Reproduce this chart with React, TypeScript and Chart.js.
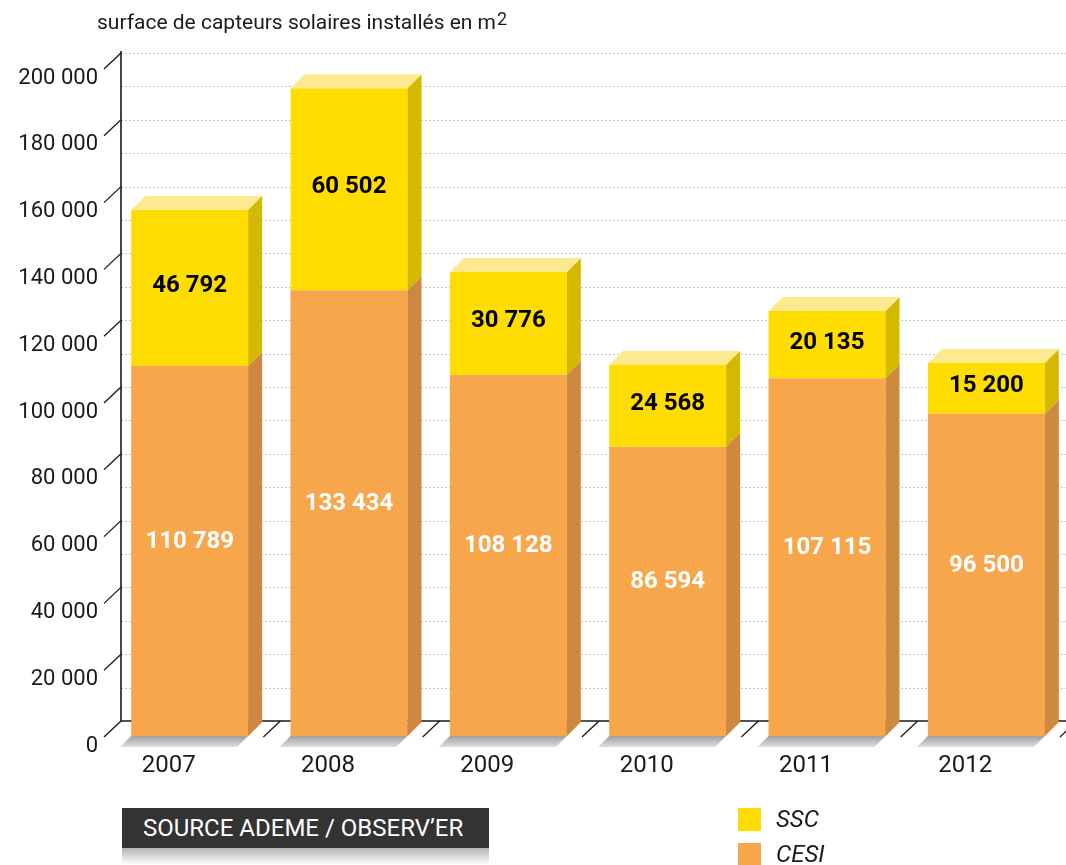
import React, { useEffect, useRef } from "react";
import { Chart, registerables } from "chart.js";

Chart.register(...registerables);

const years = ["2007", "2008", "2009", "2010", "2011", "2012"];
const cesiValues = [110789, 133434, 108128, 86594, 107115, 96500];
const sscValues = [46792, 60502, 30776, 24568, 20135, 15200];
const yMax = 200000;
const yStep = 20000;
const gridStep = 10000;

const fmt = (v: number) => String(v).replace(/\B(?=(\d{3})+(?!\d))/g, " ");

const FRONT_SSC = "#FFDD00";
const FRONT_CESI = "#F7A64B";
const SIDE_SSC = "#D5B800";
const SIDE_CESI = "#CF883D";
const TOP_SSC = "#FDEA8F";
const DX = 14;
const DY = 14;
const WALL_DEPTH = 15;
const FONT = "Roboto, 'Noto Sans', sans-serif";

const plugin3d = {
  id: "threeD",
  beforeDatasetsDraw(chart: any) {
    const { ctx, chartArea, scales } = chart;
    const y = scales.y;
    const y0 = y.getPixelForValue(0);
    const wallX = chartArea.left + 11;
    ctx.save();
    ctx.strokeStyle = "#c2c2c2";
    ctx.lineWidth = 1;
    ctx.setLineDash([2, 2]);
    for (let v = gridStep; v <= yMax; v += gridStep) {
      const py = Math.round(y.getPixelForValue(v) - WALL_DEPTH) + 0.5;
      ctx.beginPath();
      ctx.moveTo(wallX, py);
      ctx.lineTo(chartArea.right, py);
      ctx.stroke();
    }
    ctx.setLineDash([]);
    ctx.strokeStyle = "#1a1a1a";
    ctx.lineWidth = 1.6;
    ctx.beginPath();
    ctx.moveTo(wallX, y.getPixelForValue(yMax) - WALL_DEPTH - 2);
    ctx.lineTo(wallX, y0 - WALL_DEPTH);
    ctx.lineTo(chartArea.right, y0 - WALL_DEPTH);
    ctx.stroke();
    ctx.lineWidth = 1.3;
    for (let v = 0; v <= yMax; v += yStep) {
      const fy = y.getPixelForValue(v);
      ctx.beginPath();
      ctx.moveTo(chartArea.left - 6, fy + 1);
      ctx.lineTo(wallX, fy - WALL_DEPTH);
      ctx.stroke();
    }
    const cw = (chartArea.right - chartArea.left) / years.length;
    for (let k = 1; k <= years.length; k++) {
      const b = chartArea.left + k * cw;
      ctx.beginPath();
      ctx.moveTo(b - 6, y0 + 1);
      ctx.lineTo(b + 11, y0 - WALL_DEPTH);
      ctx.stroke();
    }
    const meta = chart.getDatasetMeta(0);
    meta.data.forEach((bar: any) => {
      const p = bar.getProps(["x", "width", "base"], true);
      const x0 = p.x - p.width / 2;
      const x1 = p.x + p.width / 2;
      const b = p.base;
      const g = ctx.createLinearGradient(0, b, 0, b + 12);
      g.addColorStop(0, "#9fa0a3");
      g.addColorStop(1, "#e4e4e5");
      ctx.fillStyle = g;
      ctx.beginPath();
      ctx.moveTo(x0, b);
      ctx.lineTo(x0 - 11, b + 11);
      ctx.lineTo(x1 - 11, b + 11);
      ctx.lineTo(x1 + DX, b - DY);
      ctx.closePath();
      ctx.fill();
    });
    ctx.restore();
  },
  afterDatasetsDraw(chart: any) {
    const { ctx } = chart;
    ctx.save();
    const sides = [SIDE_CESI, SIDE_SSC];
    const labelColors = ["#ffffff", "#000000"];
    const labelOffsets = [-9, -2];
    const data = [cesiValues, sscValues];
    for (let d = 0; d < 2; d++) {
      const meta = chart.getDatasetMeta(d);
      meta.data.forEach((bar: any) => {
        const p = bar.getProps(["x", "y", "base", "width"], true);
        const x0 = p.x - p.width / 2;
        const x1 = p.x + p.width / 2;
        const top = Math.min(p.y, p.base);
        const bot = Math.max(p.y, p.base);
        ctx.fillStyle = sides[d];
        ctx.beginPath();
        ctx.moveTo(x1, top);
        ctx.lineTo(x1 + DX, top - DY);
        ctx.lineTo(x1 + DX, bot - DY);
        ctx.lineTo(x1, bot);
        ctx.closePath();
        ctx.fill();
        if (d === 1) {
          ctx.fillStyle = TOP_SSC;
          ctx.beginPath();
          ctx.moveTo(x0, top);
          ctx.lineTo(x0 + DX, top - DY);
          ctx.lineTo(x1 + DX, top - DY);
          ctx.lineTo(x1, top);
          ctx.closePath();
          ctx.fill();
        }
      });
    }
    for (let d = 0; d < 2; d++) {
      const meta = chart.getDatasetMeta(d);
      meta.data.forEach((bar: any, i: number) => {
        const p = bar.getProps(["x", "y", "base"], true);
        ctx.fillStyle = labelColors[d];
        ctx.font = `bold 24px ${FONT}`;
        ctx.textAlign = "center";
        ctx.textBaseline = "middle";
        ctx.fillText(fmt(data[d][i]), p.x, (p.y + p.base) / 2 + labelOffsets[d]);
      });
    }
    ctx.restore();
  },
};

export default function App() {
  const ref = useRef<HTMLCanvasElement>(null);
  useEffect(() => {
    if (!ref.current) return;
    const chart = new Chart(ref.current, {
      type: "bar",
      data: {
        labels: years,
        datasets: [
          {
            label: "CESI",
            data: cesiValues,
            backgroundColor: FRONT_CESI,
            borderWidth: 0,
            categoryPercentage: 0.734,
            barPercentage: 1,
          },
          {
            label: "SSC",
            data: sscValues,
            backgroundColor: FRONT_SSC,
            borderWidth: 0,
            categoryPercentage: 0.734,
            barPercentage: 1,
          },
        ],
      },
      options: {
        animation: false,
        responsive: false,
        devicePixelRatio: 1,
        layout: { padding: { top: 68, bottom: 89, left: 0, right: 0 } },
        plugins: {
          legend: { display: false },
          tooltip: { enabled: false },
          title: { display: false },
        },
        scales: {
          x: {
            stacked: true,
            offset: true,
            grid: { display: false },
            border: { display: false },
            ticks: {
              autoSkip: false,
              maxRotation: 0,
              labelOffset: -21,
              padding: 8,
              color: "#1a1a1a",
              font: { family: FONT, size: 24 },
            },
            afterFit: (s: any) => {
              s.height = 40;
            },
          },
          y: {
            stacked: true,
            min: 0,
            max: yMax,
            grid: { display: false },
            border: { display: false },
            ticks: {
              stepSize: yStep,
              labelOffset: 10,
              padding: 4,
              color: "#1a1a1a",
              font: { family: FONT, size: 22 },
              callback: (v: any) => fmt(Number(v)),
            },
            afterFit: (s: any) => {
              s.width = 110;
            },
          },
        },
      },
      plugins: [plugin3d],
    });
    return () => chart.destroy();
  }, []);

  return (
    <div style={{ position: "absolute", left: 0, top: 0, width: 1066, height: 865, background: "#fff", overflow: "hidden", fontFamily: FONT }}>
      <canvas ref={ref} width={1066} height={865} style={{ position: "absolute", left: 0, top: 0 }} />
      <div style={{ position: "absolute", left: 97, top: 12, fontSize: 21, lineHeight: "21px", color: "#1a1a1a", whiteSpace: "nowrap" }}>
        surface de capteurs solaires installés en m
        <span style={{ fontSize: 18, position: "relative", top: -4, marginLeft: 1 }}>2</span>
      </div>
      <div style={{ position: "absolute", left: 122, top: 808, width: 367, height: 40, background: "#333333", color: "#ffffff", fontSize: 24, lineHeight: "40px", paddingLeft: 21, boxSizing: "border-box", whiteSpace: "nowrap" }}>
        SOURCE ADEME / OBSERV’ER
      </div>
      <div style={{ position: "absolute", left: 122, top: 848, width: 367, height: 17, background: "linear-gradient(#b4b4b4, #ffffff)" }} />
      <div style={{ position: "absolute", left: 738, top: 808, width: 23, height: 23, background: FRONT_SSC }} />
      <div style={{ position: "absolute", left: 738, top: 843, width: 23, height: 23, background: FRONT_CESI }} />
      <div style={{ position: "absolute", left: 776, top: 806, fontSize: 24, lineHeight: "26px", fontStyle: "italic", color: "#1a1a1a" }}>SSC</div>
      <div style={{ position: "absolute", left: 776, top: 841, fontSize: 24, lineHeight: "26px", fontStyle: "italic", color: "#1a1a1a" }}>CESI</div>
    </div>
  );
}
